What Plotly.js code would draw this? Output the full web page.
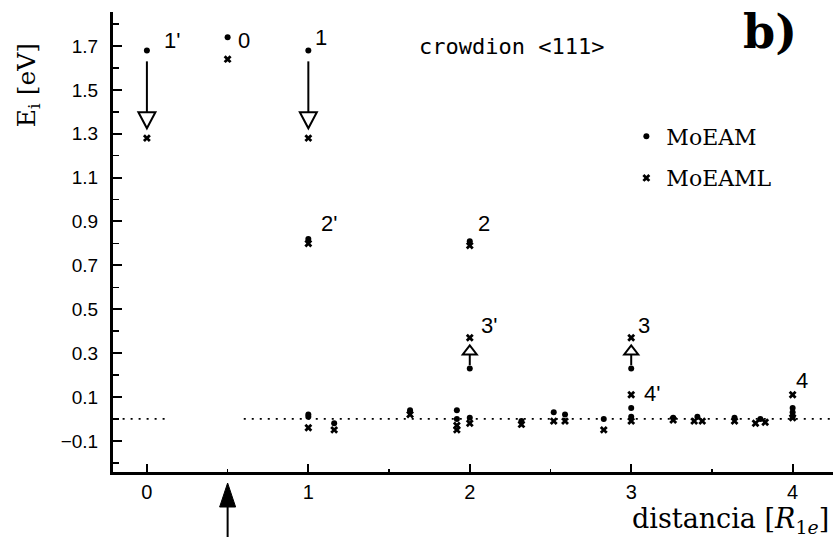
<!DOCTYPE html>
<html>
<head>
<meta charset="utf-8">
<script src="https://cdn.plot.ly/plotly-3.0.1.min.js"></script>
<style>
  html, body { margin: 0; padding: 0; background: #fff; }
  #chart { width: 833px; height: 542px; }
</style>
</head>
<body>
<div id="chart"></div>
<script>
// Interstitial energies E_i around a <111> crowdion versus distance (units of R_1e)

// MoEAM potential (dots)
const moeamX = [0, 0.5, 1, 1, 2, 2, 3, 3, 4,
                1, 1, 1.16, 1.63, 1.92, 1.92, 2.0, 2.32, 2.52, 2.59, 2.83, 3.0, 3.26, 3.41, 3.64, 3.80, 4.0, 4.0];
const moeamY = [1.68, 1.74, 1.68, 0.82, 0.81, 0.23, 0.23, 0.05, 0.05,
                0.02, 0.01, -0.02, 0.04, 0.04, 0.0, 0.005, -0.01, 0.03, 0.02, 0.0, 0.01, 0.005, 0.01, 0.005, 0.0, 0.03, 0.01];

// MoEAML potential (crosses)
const moeamlX = [0, 0.5, 1, 1, 2, 2, 3, 3, 4,
                 1, 1.16, 1.63, 1.92, 1.92, 2.0, 2.32, 2.52, 2.59, 2.83, 3.0, 3.26, 3.39, 3.44, 3.64, 3.77, 3.83, 4.0];
const moeamlY = [1.28, 1.64, 1.28, 0.80, 0.79, 0.37, 0.37, 0.11, 0.11,
                 -0.04, -0.05, 0.02, -0.03, -0.05, -0.02, -0.025, -0.01, -0.01, -0.05, -0.01, -0.005, -0.01, -0.01, -0.01, -0.02, -0.015, 0.005];

// Site labels next to the marked atoms
const siteLabels = ["1'", "0", "1", "2'", "2", "3'", "3", "4'", "4"];
const siteLabelX = [0.155, 0.60, 1.08, 1.13, 2.09, 2.12, 3.08, 3.13, 4.06];
const siteLabelY = [1.727, 1.723, 1.74, 0.893, 0.893, 0.428, 0.428, 0.118, 0.173];

// Relaxation arrows: position, start energy, end energy (tip)
const arrowX = [0, 1, 2, 3];
const arrowFrom = [1.63, 1.63, 0.245, 0.245];
const arrowTo = [1.325, 1.325, 0.335, 0.335];

// Dotted reference line at E = 0 (two pieces)
const zeroLineStart = [-0.2, 0.6];
const zeroLineEnd = [0.14, 4.25];

// Crowdion centre marked below the axis
const crowdionCentre = 0.5;

const yTicks = [-0.1, 0.1, 0.3, 0.5, 0.7, 0.9, 1.1, 1.3, 1.5, 1.7];
const xTicks = [0, 1, 2, 3, 4];

const xRange = [-0.21, 4.25];
const yRange = [-0.242, 1.855];
const M = { l: 113, r: 0, t: 12, b: 70 };
const W = 833, H = 542;
const plotW = W - M.l - M.r, plotH = H - M.t - M.b;
const xPerPx = (xRange[1] - xRange[0]) / plotW;
const yPerPx = (yRange[1] - yRange[0]) / plotH;

const shapes = [];

zeroLineStart.forEach((x0, i) => {
  shapes.push({ type: 'line', xref: 'x', yref: 'y', x0: x0, x1: zeroLineEnd[i], y0: 0, y1: 0,
                line: { color: '#000', width: 1.8, dash: '2px,6px' } });
});

arrowX.forEach((x, i) => {
  const down = arrowTo[i] < arrowFrom[i];
  const headPx = down ? 16 : 9;
  const halfPx = down ? 8.5 : 7;
  const headLen = headPx * yPerPx * (down ? 1 : -1);
  const base = arrowTo[i] + headLen;
  const hw = halfPx * xPerPx;
  shapes.push({ type: 'line', xref: 'x', yref: 'y', x0: x, x1: x, y0: arrowFrom[i], y1: base,
                line: { color: '#000', width: 2 } });
  shapes.push({ type: 'path', xref: 'x', yref: 'y',
                path: `M ${x - hw},${base} L ${x + hw},${base} L ${x},${arrowTo[i]} Z`,
                fillcolor: '#fff', line: { color: '#000', width: 2 } });
});

// filled arrow under the axis pointing at the crowdion centre
(function () {
  const tip = -11 / plotH, bodyTop = -35 / plotH, tail = -65 / plotH;
  const hw = 8 * xPerPx;
  const c = crowdionCentre;
  shapes.push({ type: 'path', xref: 'x', yref: 'paper',
                path: `M ${c - hw},${bodyTop} L ${c + hw},${bodyTop} L ${c},${tip} Z`,
                fillcolor: '#000', line: { color: '#000', width: 1 } });
  shapes.push({ type: 'line', xref: 'x', yref: 'paper', x0: c, x1: c, y0: bodyTop, y1: tail,
                line: { color: '#000', width: 2 } });
})();

const annotations = siteLabels.map((t, i) => ({
  x: siteLabelX[i], y: siteLabelY[i], xref: 'x', yref: 'y', text: t, showarrow: false,
  xanchor: 'center', yanchor: 'middle',
  font: { family: 'Liberation Sans, Arial, sans-serif', size: 22, color: '#000' }
}));

annotations.push(
  { xref: 'paper', yref: 'paper', x: 0.554, y: 0.926, text: 'crowdion &lt;111&gt;', showarrow: false,
    xanchor: 'center', yanchor: 'middle',
    font: { family: 'DejaVu Sans Mono, monospace', size: 22, color: '#000' } },
  { xref: 'paper', yref: 'paper', x: 0.912, y: 0.956, text: '<b>b)</b>', showarrow: false,
    xanchor: 'center', yanchor: 'middle',
    font: { family: 'DejaVu Serif, serif', size: 46, color: '#000' } },
  { xref: 'paper', yref: 'paper', x: -0.118, y: 0.841, text: 'E<sub>i</sub> [eV]', showarrow: false,
    textangle: -90, xanchor: 'center', yanchor: 'middle',
    font: { family: 'DejaVu Serif, serif', size: 25, color: '#000' } },
  { xref: 'paper', yref: 'paper', x: 0.997, y: -0.106, text: 'distancia [<i>R</i><sub>1<i>e</i></sub>]',
    showarrow: false, xanchor: 'right', yanchor: 'middle',
    font: { family: 'DejaVu Serif, serif', size: 27, color: '#000' } }
);

const traces = [
  { type: 'scatter', mode: 'markers', name: 'MoEAM', legendgroup: 'a',
    x: moeamX, y: moeamY,
    marker: { symbol: 'circle', size: 6, color: '#000' }, cliponaxis: false },
  { type: 'scatter', mode: 'markers', name: 'MoEAML', legendgroup: 'b',
    x: moeamlX, y: moeamlY,
    marker: { symbol: 'x', size: 7, color: '#000' }, cliponaxis: false }
];

const layout = {
  width: W, height: H, margin: M,
  paper_bgcolor: '#fff', plot_bgcolor: '#fff',
  showlegend: true,
  legend: { x: 0.713, y: 0.775, xanchor: 'left', yanchor: 'top', bgcolor: 'rgba(0,0,0,0)',
            tracegroupgap: 10, traceorder: 'grouped', itemwidth: 30,
            font: { family: 'DejaVu Serif, serif', size: 22, color: '#000' } },
  xaxis: {
    range: xRange, tickvals: xTicks, ticktext: xTicks.map(String),
    ticks: 'inside', ticklen: 8, tickwidth: 2, tickcolor: '#000',
    showline: true, linecolor: '#000', linewidth: 3, showgrid: false, zeroline: false,
    ticklabelstandoff: 0,
    minor: { dtick: 0.5, tick0: 0, ticks: 'inside', ticklen: 3, tickwidth: 1.5, tickcolor: '#000', showgrid: false },
    tickfont: { family: 'Liberation Sans, Arial, sans-serif', size: 20, color: '#000' }
  },
  yaxis: {
    range: yRange, tickvals: yTicks, tickformat: '.1f',
    ticks: 'inside', ticklen: 9, tickwidth: 2, tickcolor: '#000',
    showline: true, linecolor: '#000', linewidth: 3, showgrid: false, zeroline: false,
    ticklabelstandoff: 8,
    minor: { dtick: 0.1, tick0: 0, ticks: 'inside', ticklen: 6, tickwidth: 1.5, tickcolor: '#000', showgrid: false },
    tickfont: { family: 'Liberation Sans, Arial, sans-serif', size: 19, color: '#000' }
  },
  shapes: shapes,
  annotations: annotations
};

Plotly.newPlot('chart', traces, layout, { displayModeBar: false, staticPlot: true });
</script>
</body>
</html>
